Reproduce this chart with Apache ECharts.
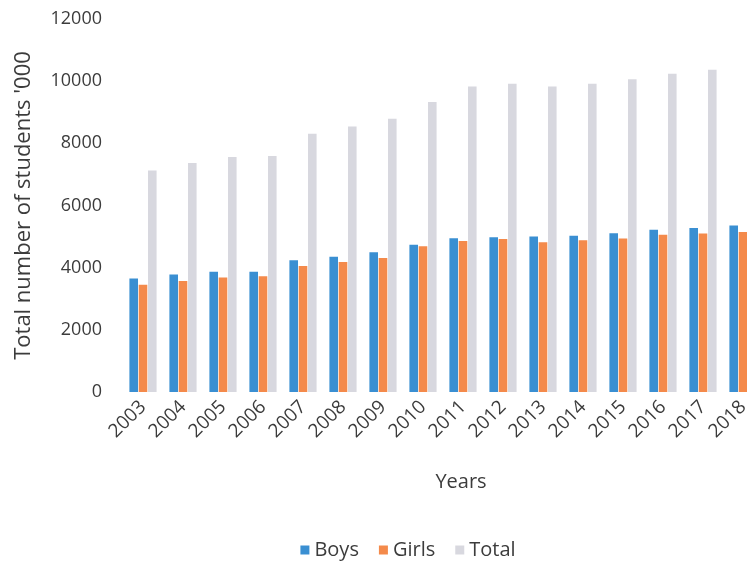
<!DOCTYPE html>
<html>
<head>
<meta charset="utf-8">
<script src="https://cdn.jsdelivr.net/npm/echarts@6/dist/echarts.min.js"></script>
<style>
  html, body { margin: 0; padding: 0; background: #fff; overflow: hidden; }
  #chart { width: 816px; height: 562px; }
</style>
</head>
<body>
<div id="chart"></div>
<script>
// Enrolment by year, in thousands of students
const years = ['2003', '2004', '2005', '2006', '2007', '2008', '2009', '2010',
               '2011', '2012', '2013', '2014', '2015', '2016', '2017', '2018'];
const boys  = [3650, 3780, 3870, 3870, 4240, 4350, 4500, 4740,
               4950, 4980, 5000, 5030, 5110, 5220, 5280, 5360];
const girls = [3450, 3570, 3680, 3720, 4050, 4180, 4310, 4690,
               4860, 4920, 4820, 4880, 4940, 5060, 5100, 5150];
const total = [7130, 7370, 7560, 7590, 8310, 8545, 8790, 9330,
               9830, 9920, 9830, 9920, 10060, 10240, 10370, 10510];
const yTicks = [0, 2000, 4000, 6000, 8000, 10000, 12000];

const FONT = '"Open Sans", sans-serif';
const TEXT = '#3c3c3c';

const chart = echarts.init(document.getElementById('chart'), null, { renderer: 'canvas' });

chart.setOption({
  animation: false,
  backgroundColor: '#ffffff',
  textStyle: { fontFamily: FONT, color: TEXT },
  legend: {
    top: 535,
    left: 'center',
    itemWidth: 9,
    itemHeight: 9,
    itemGap: 20,
    icon: 'rect',
    textStyle: { fontFamily: FONT, fontSize: 20, color: TEXT },
    data: ['Boys', 'Girls', 'Total']
  },
  grid: { left: 123, top: 19, width: 640, height: 373, containLabel: false },
  xAxis: {
    type: 'category',
    data: years,
    name: 'Years',
    nameLocation: 'middle',
    nameGap: 80,
    nameTextStyle: { fontFamily: FONT, fontSize: 20, color: TEXT, padding: [0, 0, 0, 36] },
    axisLine: { show: false },
    axisTick: { show: false },
    axisLabel: { rotate: 45, margin: 12, fontFamily: FONT, fontSize: 19, color: TEXT, interval: 0 }
  },
  yAxis: {
    type: 'value',
    min: yTicks[0],
    max: yTicks[yTicks.length - 1],
    interval: yTicks[1] - yTicks[0],
    name: "Total number of students '000",
    nameLocation: 'middle',
    nameGap: 88,
    nameTextStyle: { fontFamily: FONT, fontSize: 22, color: TEXT },
    axisLine: { show: false },
    axisTick: { show: false },
    splitLine: { show: false },
    axisLabel: {
      margin: 21, fontFamily: FONT, fontSize: 18, color: TEXT,
      formatter: (v) => String(v)
    }
  },
  series: [
    { name: 'Boys',  type: 'bar', data: boys,  itemStyle: { color: '#3a8fd2' }, barGap: '8%', barCategoryGap: '32%' },
    { name: 'Girls', type: 'bar', data: girls, itemStyle: { color: '#f48a4b' } },
    { name: 'Total', type: 'bar', data: total, itemStyle: { color: '#d8d8df' } }
  ]
});
</script>
</body>
</html>
